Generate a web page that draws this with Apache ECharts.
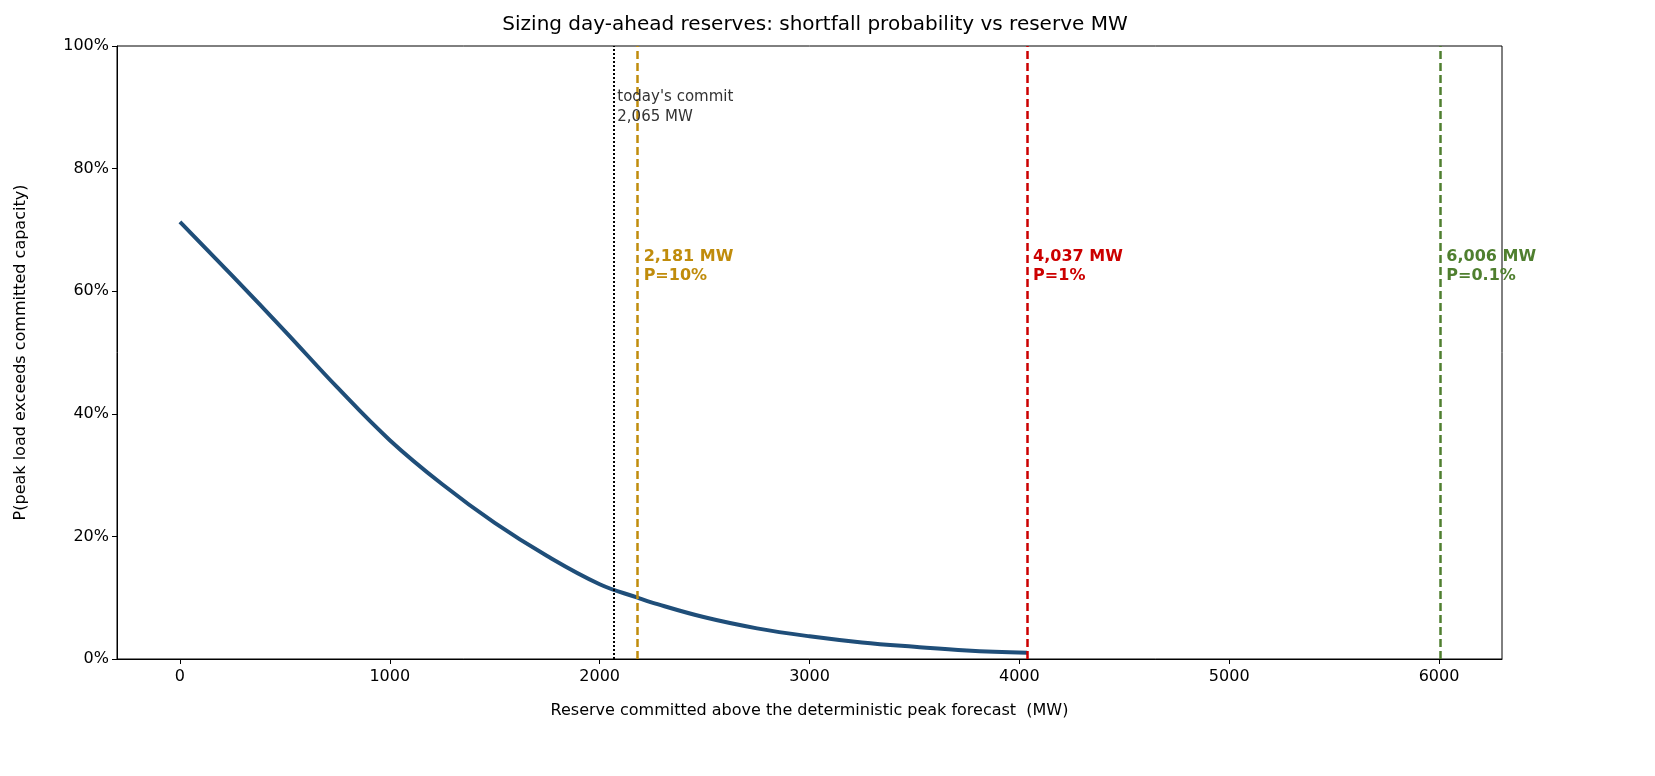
<!DOCTYPE html>
<html><head><meta charset="utf-8">
<script src="https://cdn.jsdelivr.net/npm/echarts@6/dist/echarts.min.js"></script>
<style>html,body{margin:0;background:#fff}#main{width:1655px;height:776px}</style>
</head><body><div id="main"></div>
<script>
var reserveMW = [0, 250, 500, 750, 1000, 1250, 1500, 1750, 2000, 2181, 2250, 2500, 2750, 3000, 3250, 3500, 3750, 4037];
var shortfallP = [0.713, 0.625, 0.535, 0.443, 0.357, 0.285, 0.222, 0.168, 0.122, 0.10, 0.092, 0.068, 0.05, 0.037, 0.027, 0.02, 0.014, 0.01];
var xTicks = [0, 1000, 2000, 3000, 4000, 5000, 6000];
var todayCommit = 2065;
var targets = [
  {mw: 2181, label: '2,181 MW\nP=10%', color: '#c08c0c'},
  {mw: 4037, label: '4,037 MW\nP=1%', color: '#cc0000'},
  {mw: 6006, label: '6,006 MW\nP=0.1%', color: '#4f7f2f'}
];

var myChart = echarts.init(document.getElementById('main'));
var font = 'DejaVu Sans';
var option = {
  animation: false,
  textStyle: {fontFamily: font},
  title: {
    text: 'Sizing day-ahead reserves: shortfall probability vs reserve MW',
    left: 810, top: 10, textAlign: 'center',
    textStyle: {fontFamily: font, fontSize: 20, fontWeight: 'normal', color: '#000'}
  },
  grid: {left: 117, right: 153, top: 46, bottom: 117},
  xAxis: {
    type: 'value', min: -300, max: 6300,
    name: 'Reserve committed above the deterministic peak forecast  (MW)',
    nameLocation: 'middle', nameGap: 44,
    nameTextStyle: {fontSize: 16, color: '#000'},
    axisLine: {onZero: false, lineStyle: {color: '#000'}},
    axisTick: {show: true, length: 5, lineStyle: {color: '#000'}, customValues: xTicks},
    axisLabel: {fontSize: 16, color: '#000', margin: 10, customValues: xTicks,
      formatter: function (v) { return String(v); }},
    splitLine: {show: false}
  },
  yAxis: {
    type: 'value', min: 0, max: 1, interval: 0.2,
    name: 'P(peak load exceeds committed capacity)',
    nameLocation: 'middle', nameGap: 88,
    nameTextStyle: {fontSize: 16, color: '#000'},
    axisLine: {show: true, onZero: false, lineStyle: {color: '#000'}},
    axisTick: {show: true, length: 5, lineStyle: {color: '#000'}},
    axisLabel: {fontSize: 16, color: '#000', formatter: function (v) { return Math.round(v * 100) + '%'; }},
    splitLine: {show: false}
  },
  series: [{
    type: 'line',
    data: reserveMW.map(function (x, i) { return [x, shortfallP[i]]; }),
    smooth: 0.4, showSymbol: false,
    lineStyle: {color: '#1f4e79', width: 4},
    markLine: {
      symbol: 'none', silent: true, label: {show: false},
      data: [{xAxis: todayCommit, lineStyle: {color: '#000', type: 'dotted', width: 2}}]
        .concat(targets.map(function (t) {
          return {xAxis: t.mw, lineStyle: {color: t.color, type: [8, 4], width: 2.5}};
        }))
    },
    markPoint: {
      symbol: 'circle', symbolSize: 0, silent: true,
      data: [{coord: [todayCommit, 0.9], label: {show: true, position: 'right', distance: 4,
        formatter: "today's commit\n2,065 MW", color: '#333', fontSize: 15, lineHeight: 20}}]
        .concat(targets.map(function (t) {
          return {coord: [t.mw, 0.64], label: {show: true, position: 'right', distance: 6,
            formatter: t.label, color: t.color, fontSize: 16, fontWeight: 'bold', lineHeight: 19}};
        }))
    }
  }],
  graphic: [{type: 'rect', shape: {x: 117, y: 46, width: 1385, height: 613},
    style: {fill: 'none', stroke: '#000', lineWidth: 1}, silent: true}]
};
myChart.setOption(option);
</script></body></html>
